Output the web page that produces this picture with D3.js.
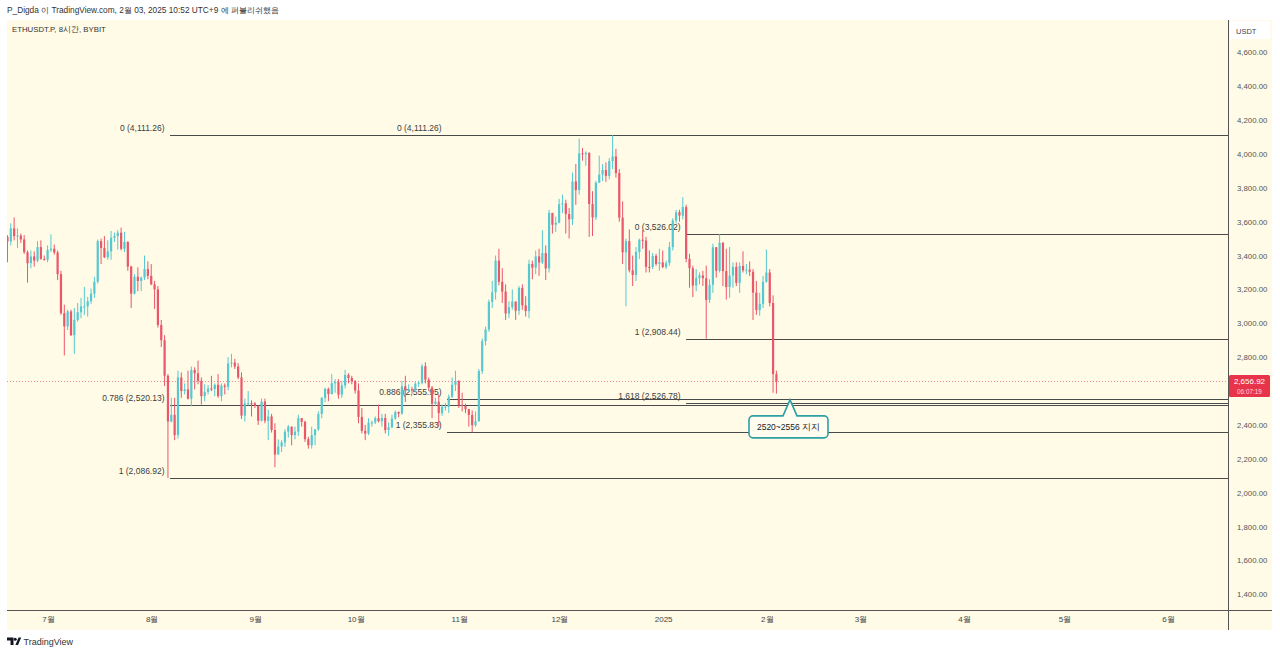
<!DOCTYPE html>
<html>
<head>
<meta charset="utf-8">
<script src="https://cdn.jsdelivr.net/npm/d3@7"></script>
<style>
  body { margin: 0; background: #fff; }
  svg { display: block; font-family: "Liberation Sans", Arial, sans-serif; }
</style>
</head>
<body>
<svg id="chart" width="1280" height="654"></svg>
<script>
// daily candles (UTC days), first day 2024-06-18
const firstDay = '2024-06-18';
const firstOpen = 3510;
const highs = [
  3520,3590,3625,3560,3530,3520,3430,3430,3425,3485,3490,3400,3460,
  3525,3465,3430,3310,3110,3080,3080,3090,3120,3150,3215,3155,3205,3275,3495,3500,3515,3490,3545,3535,3550,3565,3540,3485,3340,3290,3330,3275,3400,3365,3350,
  3250,3220,3020,2930,2700,2560,2560,2720,2710,2645,2720,2745,2740,2780,2680,2640,2635,2690,2645,2700,2645,2645,2800,2820,2790,2765,2710,2555,2600,2545,2535,
  2515,2555,2555,2490,2465,2410,2315,2310,2375,2400,2390,2390,2460,2440,2425,2330,2390,2375,2480,2565,2620,2620,2700,2670,2670,2660,2725,2705,2690,2665,
  2645,2500,2400,2440,2425,2450,2520,2465,2465,2415,2460,2485,2480,2660,2690,2640,2625,2655,2660,2760,2770,2680,2630,2560,2580,2520,2530,2580,2680,2720,2665,
  2590,2525,2495,2485,2480,2730,2910,2980,3140,3250,3400,3440,3325,3230,3130,3200,3130,3220,3230,3160,3375,3370,3430,3440,3550,3460,3670,3640,3630,3735,
  3760,3730,3680,3890,3940,4090,4035,4015,4010,3780,3840,3990,3940,3950,3975,4111,4030,3910,3720,3500,3555,3400,3450,3500,3550,3510,3430,3415,3410,3440,3430,
  3370,3480,3620,3670,3670,3745,3700,3410,3340,3320,3300,3310,3340,3260,3470,3450,3526,3480,3440,3450,3360,3360,3360,3425,3350,3365,3320,3250,3180,3280,3435,
  3320,3165,2720
];
const lows = [
  3360,3460,3490,3445,3475,3410,3240,3325,3335,3360,3375,3370,3360,
  3420,3405,3255,3050,2810,2960,2925,2820,3010,3030,3050,3040,3115,3150,3235,3350,3385,3375,3375,3480,3435,3430,3420,3310,3090,3170,3190,3190,3255,3260,3225,
  3085,2975,2860,2630,2087,2415,2310,2320,2560,2580,2550,2510,2610,2640,2520,2540,2580,2600,2570,2560,2540,2580,2605,2740,2730,2670,2435,2420,2515,2450,2500,
  2400,2420,2410,2310,2355,2150,2225,2240,2270,2325,2280,2315,2335,2390,2300,2260,2260,2280,2365,2440,2535,2540,2580,2590,2555,2560,2615,2645,2640,2585,
  2410,2350,2310,2340,2390,2405,2415,2390,2350,2335,2380,2430,2445,2460,2535,2595,2585,2595,2625,2640,2645,2600,2440,2510,2390,2455,2485,2470,2560,2600,2500,
  2480,2470,2390,2356,2390,2420,2700,2870,2950,3090,3140,3225,3120,3020,3030,3080,3020,3050,3080,3040,3030,3260,3290,3280,3350,3255,3300,3530,3540,3590,
  3650,3530,3500,3580,3700,3760,3960,3930,3510,3515,3610,3830,3840,3835,3850,3910,3860,3600,3350,3100,3300,3220,3250,3380,3440,3300,3300,3320,3340,3310,3325,
  3320,3340,3430,3590,3600,3615,3360,3210,3155,3190,3230,3220,2910,3120,3180,3270,3300,3220,3140,3150,3210,3220,3180,3300,3290,3280,3020,3050,3045,3090,3240,
  3100,2590,2585
];
const closes = [
  3483,3560,3515,3518,3495,3420,3355,3395,3370,3450,3380,3375,3433,
  3440,3418,3290,3060,2982,3070,2930,3020,3065,3100,3100,3130,3175,3245,3485,3445,3390,3425,3505,3515,3535,3440,3480,3335,3175,3275,3250,3270,3320,3280,3230,
  3200,2990,2900,2690,2420,2460,2340,2680,2600,2610,2555,2725,2705,2660,2570,2595,2615,2612,2637,2570,2632,2625,2763,2768,2745,2680,2455,2527,2528,2527,2513,
  2425,2538,2425,2450,2370,2225,2273,2297,2360,2390,2340,2360,2440,2418,2316,2280,2340,2374,2465,2560,2613,2582,2646,2653,2579,2633,2695,2677,2658,2603,
  2447,2365,2349,2414,2415,2440,2422,2441,2370,2386,2438,2476,2467,2628,2607,2611,2604,2643,2649,2747,2667,2620,2525,2537,2470,2507,2508,2566,2637,2658,2518,
  2512,2493,2459,2398,2422,2718,2895,2963,3126,3183,3370,3245,3187,3058,3095,3128,3074,3209,3106,3072,3350,3329,3395,3359,3415,3324,3652,3582,3594,3703,
  3708,3645,3614,3837,3786,4003,3998,4006,3705,3625,3830,3878,3905,3870,3958,3985,3887,3624,3419,3485,3313,3285,3421,3493,3489,3333,3332,3398,3351,3360,3332,
  3355,3450,3607,3656,3636,3686,3380,3325,3223,3267,3283,3266,3138,3227,3449,3310,3475,3308,3214,3282,3333,3239,3339,3312,3317,3304,3181,3078,3115,3245,3300,
  3120,2700,2656.92
];

// 2,600 is hidden behind the last-price tag in the reference
const priceTicks = [1400,1600,1800,2000,2200,2400,2800,3000,3200,3400,3600,3800,4000,4200,4400,4600];
const monthStarts = ['2024-07-01','2024-08-01','2024-09-01','2024-10-01','2024-11-01','2024-12-01','2025-01-01','2025-02-01','2025-03-01','2025-04-01','2025-05-01','2025-06-01'];
const monthLabels = ['7월','8월','9월','10월','11월','12월','2025','2월','3월','4월','5월','6월'];

// fib retracements: start time of the drawing, level names, prices
const fibStarts = ['2024-08-06T12:00:00+09:00', '2024-10-28T08:30:00+09:00', '2025-01-07T20:30:00+09:00'];
const fibLevels = [[0, 0.786, 1], [0, 0.886, 1], [0, 1, 1.618]];
const fibPrices = [[4111.26, 2520.13, 2086.92], [4111.26, 2555.95, 2355.83], [3526.02, 2908.44, 2526.78]];

const lastPrice = 2656.92;
const countdown = '06:07:19';
const calloutTime = '2025-02-07T22:30:00+09:00';
const calloutPrice = 2548;
const calloutText = '2520~2556 지지';

const bg = '#fffbe6';
const upColor = '#55c8d2';
const downColor = '#ea566a';
const lineColor = '#4a4a4a';

const svg = d3.select('#chart');
const paneLeft = 7, paneRight = 1228, paneTop = 20, paneBottom = 610, axisRight = 1272, axisBottom = 630;

const kst = s => new Date(s + 'T00:00:00+09:00');
const x = d3.scaleUtc()
  .domain([kst('2024-07-01'), kst('2025-06-01')])
  .range([48, 1168]);
const y = d3.scaleLinear().domain([1400, 4600]).range([594.3, 52.3]);

const day0 = new Date(firstDay + 'T12:00:00Z');
const candles = closes.map((c, i) => ({
  t: d3.utcDay.offset(day0, i),
  o: i === 0 ? firstOpen : closes[i - 1],
  h: highs[i], l: lows[i], c
}));

// pane background
svg.append('rect').attr('x', paneLeft).attr('y', paneTop)
  .attr('width', axisRight - paneLeft).attr('height', axisBottom - paneTop).attr('fill', bg);

svg.append('clipPath').attr('id', 'clip').append('rect')
  .attr('x', paneLeft).attr('y', paneTop)
  .attr('width', paneRight - paneLeft).attr('height', paneBottom - paneTop);

const plot = svg.append('g').attr('clip-path', 'url(#clip)');

// last price dotted line
plot.append('line')
  .attr('x1', paneLeft).attr('x2', paneRight)
  .attr('y1', Math.round(y(lastPrice)) + 0.5).attr('y2', Math.round(y(lastPrice)) + 0.5)
  .attr('stroke', '#f08a96').attr('stroke-dasharray', '1,2').attr('stroke-width', 1);

// fib lines
fibStarts.forEach((s, fi) => {
  const x0 = x(new Date(s));
  fibPrices[fi].forEach((p, li) => {
    const yy = Math.round(y(p)) + 0.5;
    plot.append('line')
      .attr('x1', x0).attr('x2', paneRight)
      .attr('y1', yy).attr('y2', yy)
      .attr('stroke', lineColor).attr('stroke-width', 1);
    plot.append('text')
      .attr('x', x0 - 5.5).attr('y', yy - 5)
      .attr('text-anchor', 'end')
      .attr('font-size', 8.5).attr('fill', '#3c3c3c')
      .text(`${fibLevels[fi][li]} (${d3.format(',.2f')(p)})`);
  });
});

// candles
const bodyW = 2.2;
const cg = plot.append('g');
candles.forEach(d => {
  const col = d.c >= d.o ? upColor : downColor;
  const cx = x(d.t);
  cg.append('line')
    .attr('x1', cx).attr('x2', cx)
    .attr('y1', y(d.h)).attr('y2', y(d.l))
    .attr('stroke', col).attr('stroke-width', 1);
  const top = y(Math.max(d.o, d.c));
  const hgt = Math.max(1, Math.abs(y(d.o) - y(d.c)));
  cg.append('rect')
    .attr('x', cx - bodyW / 2).attr('y', top)
    .attr('width', bodyW).attr('height', hgt)
    .attr('fill', col);
});

// callout
{
  const tx = x(new Date(calloutTime));
  const ty = y(calloutPrice);
  const x0 = tx - 41, x1 = tx + 38, y0 = ty + 16, y1 = ty + 38, r = 4;
  const p = d3.path();
  p.moveTo(x0 + r, y0);
  p.lineTo(tx - 7, y0);
  p.lineTo(tx, ty);
  p.lineTo(tx + 7, y0);
  p.lineTo(x1 - r, y0);
  p.arcTo(x1, y0, x1, y0 + r, r);
  p.lineTo(x1, y1 - r);
  p.arcTo(x1, y1, x1 - r, y1, r);
  p.lineTo(x0 + r, y1);
  p.arcTo(x0, y1, x0, y1 - r, r);
  p.lineTo(x0, y0 + r);
  p.arcTo(x0, y0, x0 + r, y0, r);
  p.closePath();
  svg.append('path').attr('d', p.toString())
    .attr('fill', '#fffdf0').attr('stroke', '#2e9fa3').attr('stroke-width', 1.6);
  svg.append('text')
    .attr('x', (x0 + x1) / 2).attr('y', (y0 + y1) / 2 + 3)
    .attr('text-anchor', 'middle').attr('font-size', 8.5).attr('fill', '#222')
    .text(calloutText);
}

// axis separators
svg.append('line').attr('x1', paneRight + 0.5).attr('x2', paneRight + 0.5)
  .attr('y1', paneTop).attr('y2', axisBottom).attr('stroke', '#555');
svg.append('line').attr('x1', paneLeft).attr('x2', axisRight)
  .attr('y1', paneBottom + 0.5).attr('y2', paneBottom + 0.5).attr('stroke', '#555');

// price axis
const yAxis = svg.append('g')
  .attr('transform', `translate(${paneRight},0)`)
  .call(d3.axisRight(y).tickValues(priceTicks).tickFormat(d3.format(',.2f')).tickSize(0).tickPadding(9));
yAxis.select('.domain').remove();
yAxis.selectAll('text').attr('font-size', 7.8).attr('fill', '#555').attr('font-family', '"Liberation Sans", Arial, sans-serif');

// currency box
svg.append('rect').attr('x', 1230).attr('y', 21).attr('width', 40).attr('height', 18).attr('fill', '#fff');
svg.append('text').attr('x', 1236).attr('y', 34).attr('font-size', 7.5).attr('fill', '#444').text('USDT');

// time axis
const xAxis = svg.append('g')
  .attr('transform', `translate(0,${paneBottom})`)
  .call(d3.axisBottom(x).tickValues(monthStarts.map(kst))
    .tickFormat((d, i) => monthLabels[i]).tickSize(0).tickPadding(6));
xAxis.select('.domain').remove();
xAxis.selectAll('text').attr('font-size', 8).attr('fill', '#444').attr('font-family', '"Liberation Sans", Arial, sans-serif');

// last price tag
{
  const py = y(lastPrice);
  svg.append('rect').attr('x', 1229).attr('y', py - 6.5).attr('width', 41).attr('height', 22)
    .attr('rx', 1.5).attr('fill', '#e8344a');
  svg.append('text').attr('x', 1249.5).attr('y', py + 2.6).attr('text-anchor', 'middle')
    .attr('font-size', 8).attr('fill', '#fff').text(d3.format(',.2f')(lastPrice));
  svg.append('text').attr('x', 1249.5).attr('y', py + 13).attr('text-anchor', 'middle')
    .attr('font-size', 6.4).attr('fill', '#ffd6db').text(countdown);
}

// header
svg.append('text').attr('x', 7).attr('y', 13).attr('font-size', 8.3).attr('fill', '#333')
  .text('P_Digda 이 TradingView.com, 2월 03, 2025 10:52 UTC+9 에 퍼블리쉬했음');
svg.append('text').attr('x', 12).attr('y', 31.5).attr('font-size', 7.8).attr('fill', '#333')
  .text('ETHUSDT.P, 8시간, BYBIT');

// footer logo
const logo = svg.append('g').attr('fill', '#131722');
logo.append('path').attr('d', 'M7,637.5 h6.5 v7.5 h-3 v-4.6 h-3.5 z');
logo.append('circle').attr('cx', 15.2).attr('cy', 639.2).attr('r', 1.5);
logo.append('path').attr('d', 'M18.6,637.5 h2.6 l-3.2,7.5 h-2.6 z');
svg.append('text').attr('x', 23.5).attr('y', 644.5).attr('font-size', 9).attr('fill', '#333').text('TradingView');
</script>
</body>
</html>
